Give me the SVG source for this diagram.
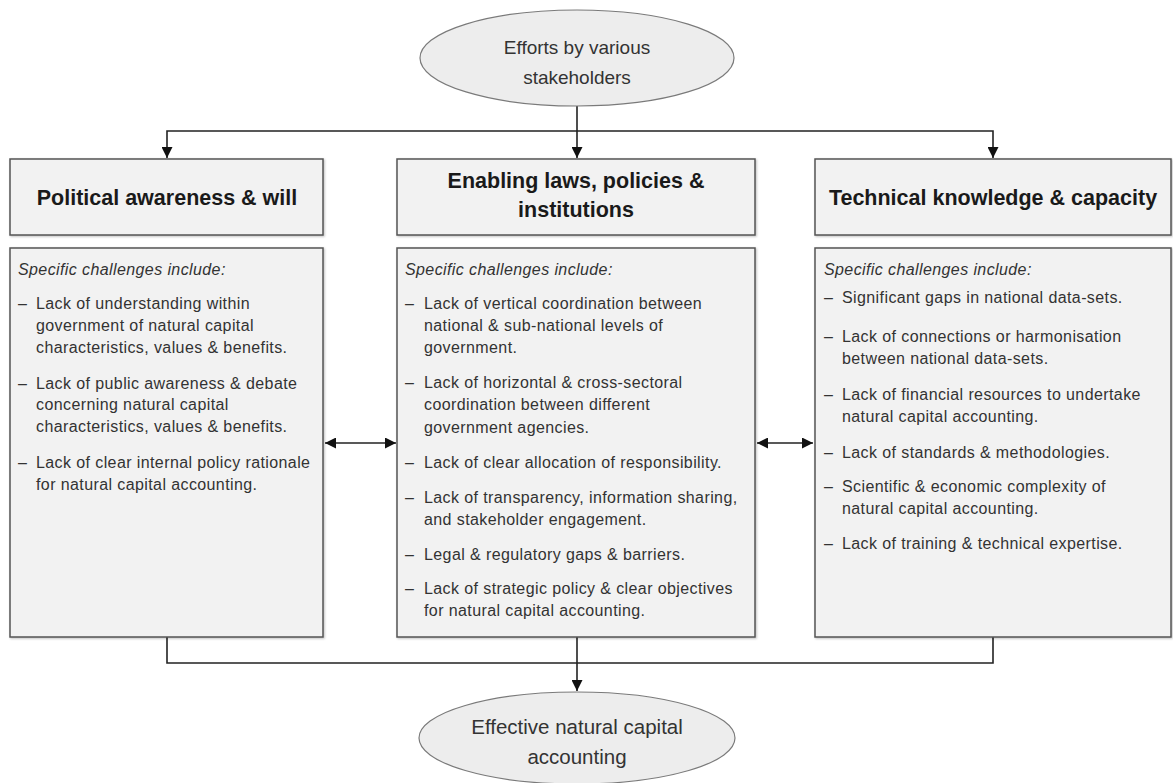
<svg xmlns="http://www.w3.org/2000/svg" width="1173" height="783" viewBox="0 0 1173 783">
<style>
.ell{fill:#ededed;stroke:#7a7a7a;stroke-width:1.2}
.box{fill:#f2f2f2;stroke:#555;stroke-width:1.5}
.et{font-family:"Liberation Sans",Arial,sans-serif;font-size:19px;fill:#333;text-anchor:middle}
.et2{font-size:20.5px}
.tt{font-family:"Liberation Sans",Arial,sans-serif;font-size:21.5px;font-weight:bold;fill:#1a1a1a;text-anchor:middle}
.bt{font-family:"Liberation Sans",Arial,sans-serif;font-size:16px;letter-spacing:0.4px;fill:#333}
.it{font-style:italic}
.con{fill:none;stroke:#222;stroke-width:1.6}
</style>
<defs>
<marker id="ah" viewBox="0 0 10 10" refX="10" refY="5" markerWidth="11" markerHeight="11" markerUnits="userSpaceOnUse" orient="auto-start-reverse">
<path d="M0,0 L10,5 L0,10 z" fill="#111"/>
</marker>
<filter id="sh" x="-5%" y="-5%" width="110%" height="110%">
<feDropShadow dx="1" dy="1" stdDeviation="1" flood-color="#000" flood-opacity="0.25"/>
</filter>
</defs>

<g id="connectors">
<path class="con" d="M577,106 V158" marker-end="url(#ah)"/>
<path class="con" d="M167,158 V131 H993 V158" marker-start="url(#ah)" marker-end="url(#ah)"/>
<path class="con" d="M325,443 H396" marker-start="url(#ah)" marker-end="url(#ah)"/>
<path class="con" d="M757,443 H813" marker-start="url(#ah)" marker-end="url(#ah)"/>
<path class="con" d="M167,637 V663 H993 V637"/>
<path class="con" d="M577,637 V691" marker-end="url(#ah)"/>
</g>

<g id="start">
<ellipse class="ell" cx="577" cy="58" rx="157" ry="48"/>
<text class="et" x="577" y="54">Efforts by various</text>
<text class="et" x="577" y="84">stakeholders</text>
</g>

<g id="political-title">
<rect class="box" x="10" y="159" width="313" height="76" filter="url(#sh)"/>
<text class="tt" x="167" y="205">Political awareness &amp; will</text>
</g>

<g id="enabling-title">
<rect class="box" x="397" y="159" width="358" height="76" filter="url(#sh)"/>
<text class="tt" x="576" y="188">Enabling laws, policies &amp;</text>
<text class="tt" x="576" y="217">institutions</text>
</g>

<g id="technical-title">
<rect class="box" x="815" y="159" width="356" height="76" filter="url(#sh)"/>
<text class="tt" x="993" y="205">Technical knowledge &amp; capacity</text>
</g>

<g id="political-challenges">
<rect class="box" x="10" y="248" width="313" height="389" filter="url(#sh)"/>
<text class="bt it" x="18" y="275">Specific challenges include:</text>
<text class="bt" x="18" y="309">–</text>
<text class="bt" x="36" y="309">Lack of understanding within</text>
<text class="bt" x="36" y="331">government of natural capital</text>
<text class="bt" x="36" y="353">characteristics, values &amp; benefits.</text>
<text class="bt" x="18" y="389">–</text>
<text class="bt" x="36" y="389">Lack of public awareness &amp; debate</text>
<text class="bt" x="36" y="410">concerning natural capital</text>
<text class="bt" x="36" y="432">characteristics, values &amp; benefits.</text>
<text class="bt" x="18" y="468">–</text>
<text class="bt" x="36" y="468">Lack of clear internal policy rationale</text>
<text class="bt" x="36" y="490">for natural capital accounting.</text>
</g>

<g id="enabling-challenges">
<rect class="box" x="397" y="248" width="358" height="389" filter="url(#sh)"/>
<text class="bt it" x="405" y="275">Specific challenges include:</text>
<text class="bt" x="405" y="309">–</text>
<text class="bt" x="424" y="309">Lack of vertical coordination between</text>
<text class="bt" x="424" y="331">national &amp; sub-national levels of</text>
<text class="bt" x="424" y="353">government.</text>
<text class="bt" x="405" y="388">–</text>
<text class="bt" x="424" y="388">Lack of horizontal &amp; cross-sectoral</text>
<text class="bt" x="424" y="410">coordination between different</text>
<text class="bt" x="424" y="433">government agencies.</text>
<text class="bt" x="405" y="468">–</text>
<text class="bt" x="424" y="468">Lack of clear allocation of responsibility.</text>
<text class="bt" x="405" y="503">–</text>
<text class="bt" x="424" y="503">Lack of transparency, information sharing,</text>
<text class="bt" x="424" y="525">and stakeholder engagement.</text>
<text class="bt" x="405" y="560">–</text>
<text class="bt" x="424" y="560">Legal &amp; regulatory gaps &amp; barriers.</text>
<text class="bt" x="405" y="594">–</text>
<text class="bt" x="424" y="594">Lack of strategic policy &amp; clear objectives</text>
<text class="bt" x="424" y="616">for natural capital accounting.</text>
</g>

<g id="technical-challenges">
<rect class="box" x="815" y="248" width="356" height="389" filter="url(#sh)"/>
<text class="bt it" x="824" y="275">Specific challenges include:</text>
<text class="bt" x="824" y="303">–</text>
<text class="bt" x="842" y="303">Significant gaps in national data-sets.</text>
<text class="bt" x="824" y="342">–</text>
<text class="bt" x="842" y="342">Lack of connections or harmonisation</text>
<text class="bt" x="842" y="364">between national data-sets.</text>
<text class="bt" x="824" y="400">–</text>
<text class="bt" x="842" y="400">Lack of financial resources to undertake</text>
<text class="bt" x="842" y="422">natural capital accounting.</text>
<text class="bt" x="824" y="458">–</text>
<text class="bt" x="842" y="458">Lack of standards &amp; methodologies.</text>
<text class="bt" x="824" y="492">–</text>
<text class="bt" x="842" y="492">Scientific &amp; economic complexity of</text>
<text class="bt" x="842" y="514">natural capital accounting.</text>
<text class="bt" x="824" y="549">–</text>
<text class="bt" x="842" y="549">Lack of training &amp; technical expertise.</text>
</g>

<g id="end">
<ellipse class="ell" cx="577" cy="738" rx="158" ry="46"/>
<text class="et et2" x="577" y="734">Effective natural capital</text>
<text class="et et2" x="577" y="764">accounting</text>
</g>
</svg>
